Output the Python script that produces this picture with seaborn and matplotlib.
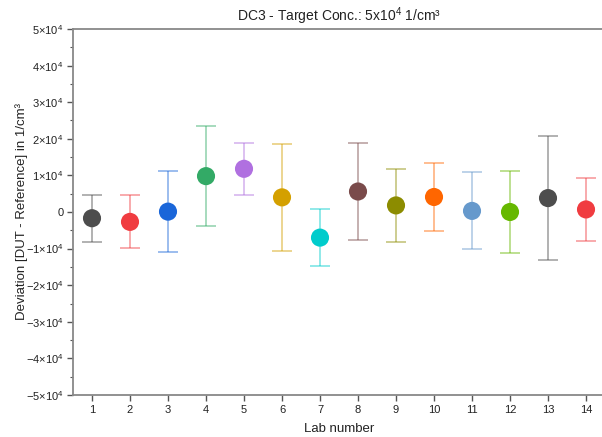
import matplotlib
matplotlib.use("Agg")
import matplotlib.pyplot as plt
import seaborn as sns
import numpy as np
import pandas as pd
from matplotlib.ticker import FixedLocator, MultipleLocator

labs = list(range(1, 15))
means = [-1700, -2700, 100, 9800, 11800, 4000, -7000, 5600, 1800, 4100, 300, 0, 3800, 700]
errs = [6400, 7250, 11150, 13650, 7100, 14650, 7700, 13250, 9950, 9350, 10500, 11200, 17000, 8600]
colors = ["#4d4d4d", "#f03c40", "#1a66d9", "#33aa66", "#b070e0", "#d4a000", "#00cccc",
          "#7a4b4b", "#8c8c00", "#ff6600", "#6699cc", "#66b800", "#4d4d4d", "#f03c40"]
ytick_vals = [-50000, -40000, -30000, -20000, -10000, 0, 10000, 20000, 30000, 40000, 50000]
ytick_labels = ["\u22125\u00d710$^{4}$", "\u22124\u00d710$^{4}$", "\u22123\u00d710$^{4}$",
                "\u22122\u00d710$^{4}$", "\u22121\u00d710$^{4}$", "0",
                "1\u00d710$^{4}$", "2\u00d710$^{4}$", "3\u00d710$^{4}$", "4\u00d710$^{4}$",
                "5\u00d710$^{4}$"]

sns.set_theme(style="white")
plt.rcParams["font.family"] = ["Liberation Sans", "DejaVu Sans"]
plt.rcParams["mathtext.fontset"] = "custom"
plt.rcParams["mathtext.rm"] = "Liberation Sans"
plt.rcParams["mathtext.it"] = "Liberation Sans:italic"
plt.rcParams["mathtext.bf"] = "Liberation Sans:bold"

df = pd.DataFrame({"lab": labs, "mean": means, "err": errs, "lab_str": [str(l) for l in labs]})

fig = plt.figure(figsize=(6.02, 4.37), dpi=100)
ax = fig.add_axes([73/602, 1-395/437, 1.005 - 73/602, (395-29)/437])

for x, m, e, c in zip(labs, means, errs, colors):
    ax.errorbar(x, m, yerr=e, fmt="none", ecolor=c, alpha=0.55, elinewidth=1.1,
                capsize=7, capthick=1.1, zorder=2)

sns.scatterplot(data=df, x="lab", y="mean", hue="lab_str", palette=colors, s=170,
                edgecolor="none", legend=False, ax=ax, zorder=3)

ax.set_xlim(0.5, 14.5)
ax.set_ylim(-50000, 50000)
ax.set_xticks(labs)
ax.set_xticklabels([str(l) for l in labs])
ax.yaxis.set_major_locator(FixedLocator(ytick_vals))
ax.set_yticklabels(ytick_labels)
ax.yaxis.set_minor_locator(MultipleLocator(5000))

ax.tick_params(axis="both", which="major", direction="out", length=4, width=1,
               color="#555555", labelsize=8, labelcolor="#222222", pad=3)
ax.tick_params(axis="y", which="minor", direction="out", length=2.5, width=0.8,
               color="#555555", left=True)
ax.tick_params(axis="x", which="both", bottom=True)
ax.tick_params(axis="y", which="both", left=True)

for side in ["left", "bottom", "top"]:
    ax.spines[side].set_color("#888888")
    ax.spines[side].set_linewidth(1.3)
ax.spines["right"].set_visible(False)

ax.set_xlabel("Lab number", fontsize=9.5, color="#222222", labelpad=6)
ax.set_ylabel("Deviation [DUT - Reference] in 1/cm\u00b3", fontsize=9.5, color="#222222")
ax.yaxis.set_label_coords(-0.085, 0.5)
ax.set_title("DC3 - Target Conc.: 5x10$^{4}$ 1/cm\u00b3", fontsize=10, color="#222222", pad=6)

fig.savefig("out.png", dpi=100)
